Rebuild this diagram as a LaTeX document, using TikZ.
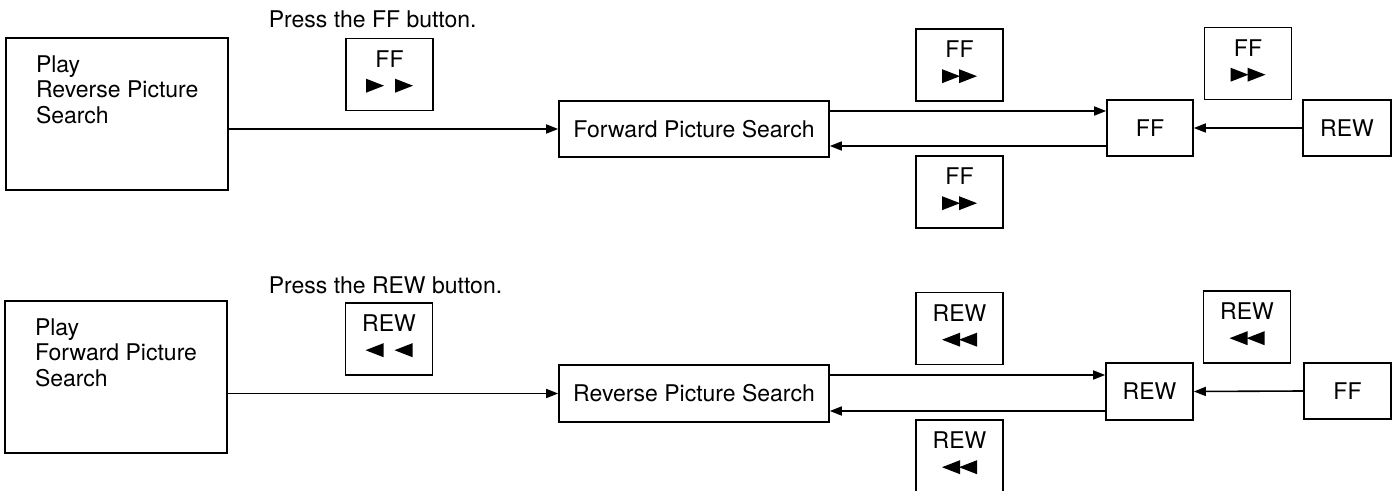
\documentclass[tikz,border=0pt]{standalone}
\usepackage{fontspec}
\setmainfont{TeX Gyre Heros}
\usetikzlibrary{arrows.meta,calc}
\newcommand\mybtn[5][]{%
  \node[btn,#1] (#2) at (#3) {};
  \path (#2.north) ++(0,21) node (#2t) {#4} ++(0,27) pic {#5};}
\begin{document}
\begin{tikzpicture}[x=0.5pt,y=-0.5pt,
  font=\fontsize{11.5}{12.75}\selectfont, line width=0.8pt,
  box/.style 2 args={draw, inner sep=0pt, minimum width=#1*0.5pt, minimum height=#2*0.5pt},
  btn/.style={box={87}{72}},
  arr/.style={-{Triangle[length=6pt,width=4.5pt]}},
  multi/.style={anchor=north west, align=left, inner sep=0pt, font=\fontsize{11.5}{12.75}\selectfont},
  rt/.pic={\fill (-9,-7) -- (9,0) -- (-9,7) -- cycle;},
  lt/.pic={\fill (9,-7) -- (-9,0) -- (9,7) -- cycle;},
  rtsep/.pic={\pic at (-14.5,0) {rt}; \pic at (14.5,0) {rt};},
  ltsep/.pic={\pic at (-14.5,0) {lt}; \pic at (14.5,0) {lt};},
  rtpair/.pic={\pic at (-8.5,0) {rt}; \pic at (8.5,0) {rt};},
  ltpair/.pic={\pic at (-8.5,0) {lt}; \pic at (8.5,0) {lt};}]
\useasboundingbox (0,0) rectangle (1395,491);

% ---------- top row ----------
\node[box={222}{152}] (lb1) at (117,114) {};
\node[multi] (lb1t) at ($(lb1.north west)+(30,17.5)$) {Play\\Reverse Picture\\Search};
\node[anchor=base west, inner sep=0pt] (p1) at (268,28) {Press the FF button.};
\mybtn{b1}{389.5,74.5}{FF}{rtsep}
\node[box={270}{56}] (fwd) at (694,129) {Forward Picture Search};
\mybtn{bA}{959.5,65}{FF}{rtpair}
\mybtn{bB}{959.5,192}{FF}{rtpair}
\node[box={86}{56}] (ffn) at (1150,128) {FF};
\mybtn{bC}{1248,63.5}{FF}{rtpair}
\node[box={88}{56}] (rewn) at (1347,128) {REW};

\draw[arr] (lb1.east |- fwd.west) -- (fwd.west);
\draw[arr] (fwd.east |- 0,111) -- (ffn.west |- 0,111);
\draw[arr] (ffn.west |- 0,146) -- (fwd.east |- 0,146);
\draw[arr] (rewn.west) -- (ffn.east);

% ---------- bottom row ----------
\node[box={222}{152}] (lb2) at (116,377) {};
\node[multi] (lb2t) at ($(lb2.north west)+(30,17.5)$) {Play\\Forward Picture\\Search};
\node[anchor=base west, inner sep=0pt] (p2) at (268,293) {Press the REW button.};
\mybtn{b2}{389,339}{REW}{ltsep}
\node[box={270}{57}] (rev) at (694,393.5) {Reverse Picture Search};
\mybtn{bD}{959.5,328.5}{REW}{ltpair}
\mybtn[minimum height=37pt]{bE}{959.5,457}{REW}{ltpair}
\node[box={87}{57}] (rewn2) at (1149.5,391.5) {REW};
\mybtn{bF}{1247,327}{REW}{ltpair}
\node[box={87}{56}] (ffn2) at (1347.5,391) {FF};

\draw[arr] (lb2.east |- rev.west) -- (rev.west);
\draw[arr] (rev.east |- 0,375) -- (rewn2.west |- 0,375);
\draw[arr] (rewn2.west |- 0,411) -- (rev.east |- 0,411);
\draw[arr] (ffn2.west) -- (rewn2.east);
\end{tikzpicture}
\end{document}
